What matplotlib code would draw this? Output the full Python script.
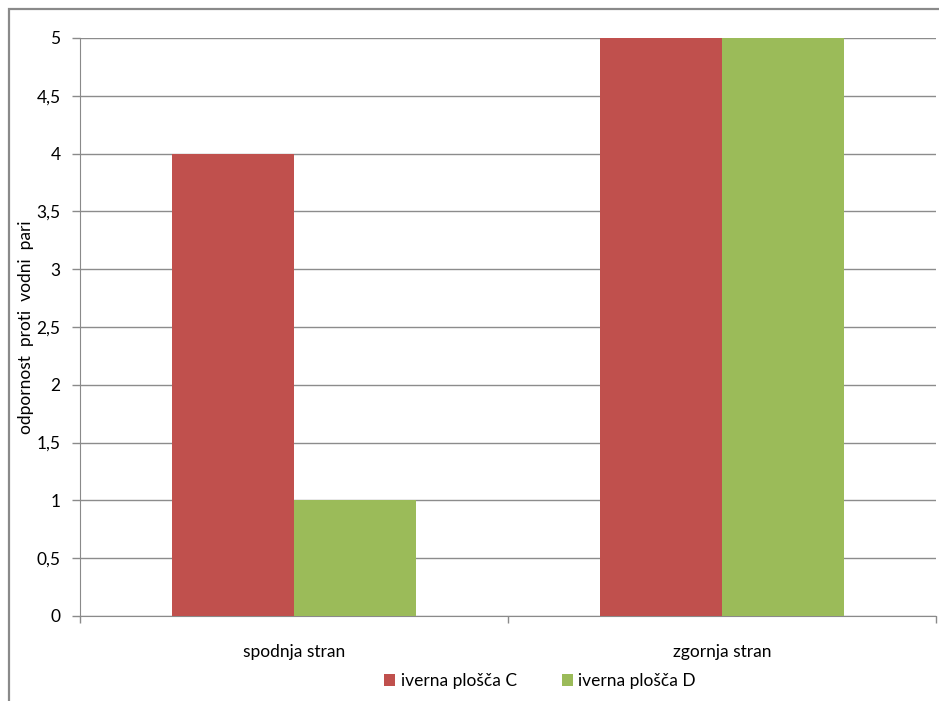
import matplotlib
matplotlib.use("Agg")
import matplotlib.pyplot as plt
import numpy as np
from matplotlib.patches import Rectangle

categories = ["spodnja stran", "zgornja stran"]
series_names = ["iverna plošča C", "iverna plošča D"]
values_c = [4, 5]
values_d = [1, 5]
y_ticks = [0, 0.5, 1, 1.5, 2, 2.5, 3, 3.5, 4, 4.5, 5]
y_tick_labels = ["0", "0,5", "1", "1,5", "2", "2,5", "3", "3,5", "4", "4,5", "5"]
y_label = "odpornost  proti  vodni  pari"

plt.rcParams["font.family"] = ["Lato", "DejaVu Sans"]
FS = 12.5

W, H = 939, 701
fig = plt.figure(figsize=(W / 100, H / 100), dpi=100)
fig.patch.set_facecolor("white")

# outer chart frame (left and top edges visible)
fig.add_artist(Rectangle((9 / W, -0.1), 1.2, (H - 9) / H + 0.1,
                         transform=fig.transFigure, fill=False,
                         edgecolor="#8a8a8a", linewidth=1.6))

ax = fig.add_axes([80 / W, (H - 616) / H, (936 - 80) / W, (616 - 38) / H])

x = np.arange(len(categories))
bw = 1 / 3.5
ax.bar(x - bw / 2, values_c, bw, color="#C0504D", label=series_names[0], zorder=3)
ax.bar(x + bw / 2, values_d, bw, color="#9BBB59", label=series_names[1], zorder=3)

ax.set_xlim(-0.5, len(categories) - 0.5)
ax.set_ylim(0, 5)
ax.set_yticks(y_ticks)
ax.set_yticklabels(y_tick_labels)
ax.set_xticks(x)
ax.set_xticklabels(categories)
ax.tick_params(axis="x", length=0, pad=20, labelsize=FS, colors="#000000")
ax.tick_params(axis="y", length=6, width=1, color="#8a8a8a", pad=8, labelsize=FS)
ax.set_xticks([-0.5, 0.5, 1.5], minor=True)
ax.tick_params(axis="x", which="minor", length=5, width=1, color="#8a8a8a")

ax.grid(axis="y", color="#8c8c8c", linewidth=1, zorder=0)
for s in ["top", "right"]:
    ax.spines[s].set_visible(False)
ax.spines["left"].set_color("#8a8a8a")
ax.spines["bottom"].set_color("#8a8a8a")

ax.set_ylabel(y_label, fontsize=FS)
ax.yaxis.set_label_coords((34 - 80) / (936 - 80), (616 - 327) / (616 - 38))

leg = fig.legend(loc="center", bbox_to_anchor=(540 / W, (H - 681) / H), ncol=2,
                 frameon=False, fontsize=FS, handlelength=0.65, handleheight=0.65,
                 handletextpad=0.3, columnspacing=2.6)

fig.savefig("out.png", dpi=100)
